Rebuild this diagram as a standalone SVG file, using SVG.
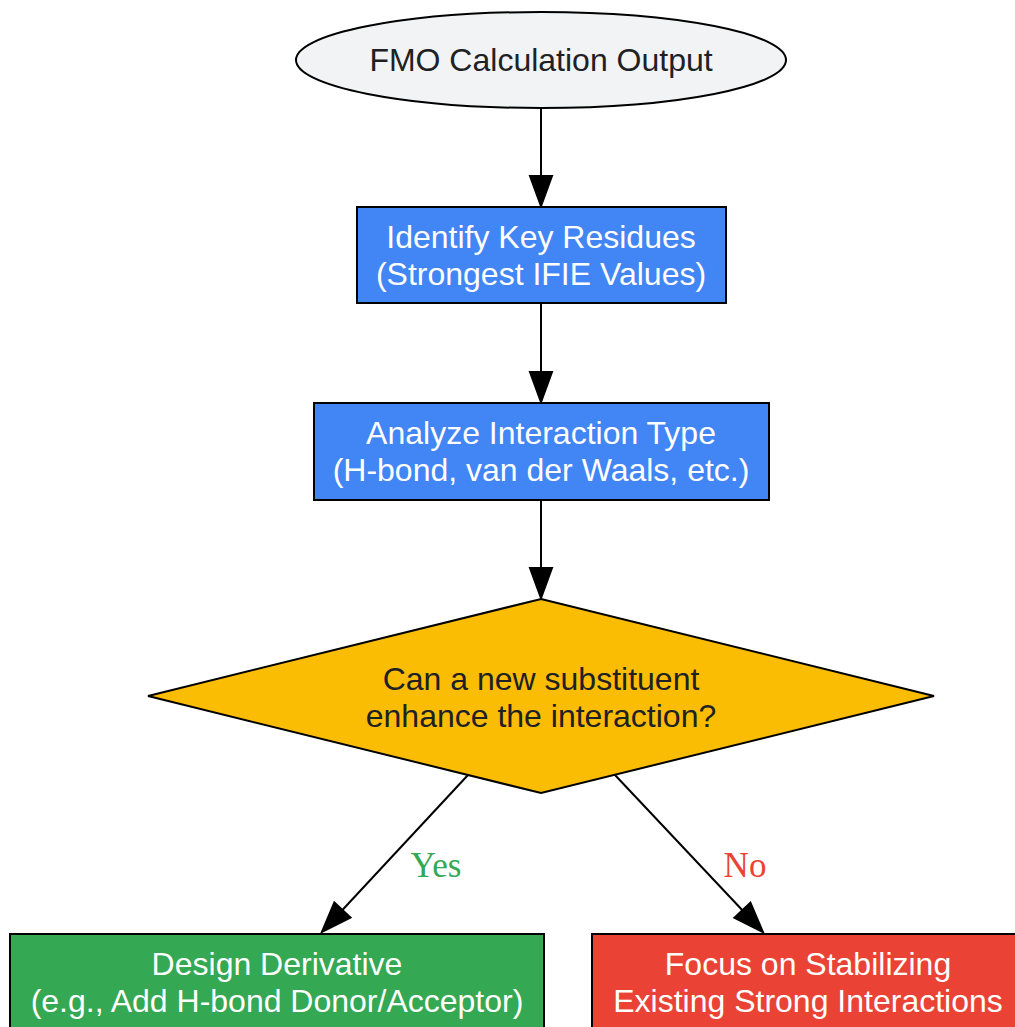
<svg xmlns="http://www.w3.org/2000/svg" width="1015" height="1027" viewBox="0 0 1015 1027">
<style>
.node { stroke: #000; stroke-width: 2; }
.t { font-family: "Liberation Sans", Arial, sans-serif; font-size: 32px; text-anchor: middle; }
.dark { fill: #202124; }
.light { fill: #ffffff; }
.edge { stroke: #000; stroke-width: 2; fill: none; marker-end: url(#arrow); }
.lbl { font-family: "Liberation Serif", "Times New Roman", serif; font-size: 35px; text-anchor: middle; }
</style>
<defs>
<marker id="arrow" markerUnits="userSpaceOnUse" markerWidth="34" markerHeight="26" refX="1" refY="12" orient="auto" overflow="visible">
<path d="M1,1 L31,12 L1,23 Z" fill="#000" stroke="#000" stroke-width="2"/>
</marker>
</defs>
<rect x="0" y="0" width="1015" height="1027" fill="#ffffff"/>
<g id="connectors">
<path class="edge" d="M541,108 L541,176"/>
<path class="edge" d="M541,304 L541,372"/>
<path class="edge" d="M541,500 L541,568"/>
<path class="edge" d="M468,775 L342.4,910"/>
<path class="edge" d="M615,775 L742.4,910.2"/>
<text class="lbl" x="436" y="877" fill="#34a853">Yes</text>
<text class="lbl" x="745" y="877" fill="#ea4335">No</text>
</g>
<g id="start">
<ellipse class="node" cx="541" cy="60" rx="245" ry="48" fill="#f1f3f4"/>
<text class="t dark" x="541" y="71">FMO Calculation Output</text>
</g>
<g id="identify">
<rect class="node" x="357" y="207" width="369" height="96" fill="#4285f4"/>
<text class="t light" x="541" y="248">Identify Key Residues</text>
<text class="t light" x="541" y="285">(Strongest IFIE Values)</text>
</g>
<g id="analyze">
<rect class="node" x="314" y="403" width="455" height="97" fill="#4285f4"/>
<text class="t light" x="541" y="444">Analyze Interaction Type</text>
<text class="t light" x="541" y="481">(H-bond, van der Waals, etc.)</text>
</g>
<g id="decision">
<polygon class="node" points="541,599 934,696 541,793 148,696" fill="#fbbc04"/>
<text class="t dark" x="541" y="690">Can a new substituent</text>
<text class="t dark" x="541" y="727">enhance the interaction?</text>
</g>
<g id="design">
<rect class="node" x="10" y="934" width="534" height="97" fill="#34a853"/>
<text class="t light" x="277" y="975">Design Derivative</text>
<text class="t light" x="277" y="1012">(e.g., Add H-bond Donor/Acceptor)</text>
</g>
<g id="focus">
<rect class="node" x="592" y="934" width="432" height="97" fill="#ea4335"/>
<text class="t light" x="808" y="975">Focus on Stabilizing</text>
<text class="t light" x="808" y="1012">Existing Strong Interactions</text>
</g>
</svg>
